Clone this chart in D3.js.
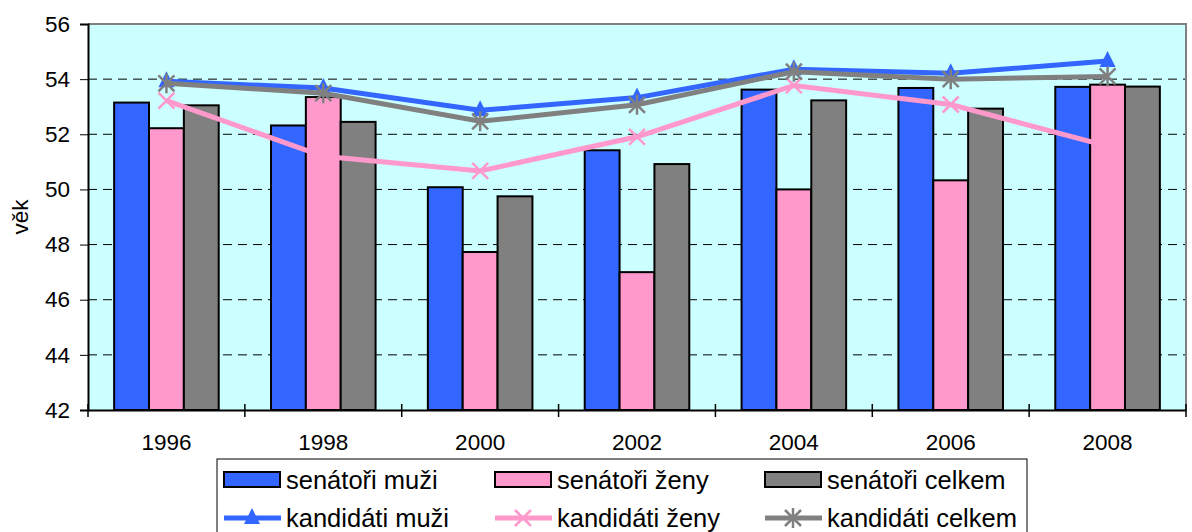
<!DOCTYPE html>
<html>
<head>
<meta charset="utf-8">
<script src="https://cdn.jsdelivr.net/npm/d3@7"></script>
<style>
  body { margin: 0; background: #fff; }
  text { font-family: Arial, "Liberation Sans", sans-serif; fill: #000; }
</style>
</head>
<body>
<div id="chart"></div>
<script>
//////////////////////////////////////////////////////////////////////////////
// Data

var years = ["1996", "1998", "2000", "2002", "2004", "2006", "2008"];

var senatoriMuzi   = [53.15, 52.32, 50.08, 51.42, 53.62, 53.68, 53.72];
var senatoriZeny   = [52.22, 53.35, 47.73, 47.00, 50.00, 50.33, 53.80];
var senatoriCelkem = [53.05, 52.45, 49.75, 50.92, 53.23, 52.93, 53.73];

var kandidatiMuzi   = [53.92, 53.68, 52.87, 53.33, 54.36, 54.21, 54.66];
var kandidatiZeny   = [53.22, 51.20, 50.67, 51.91, 53.77, 53.08, 51.57];
var kandidatiCelkem = [53.85, 53.49, 52.47, 53.07, 54.27, 54.00, 54.10];

var yTicks = [42, 44, 46, 48, 50, 52, 54, 56];

var barSeries = [
    { name: "senátoři muži",   values: senatoriMuzi,   color: "#3366FF" },
    { name: "senátoři ženy",   values: senatoriZeny,   color: "#FF99CC" },
    { name: "senátoři celkem", values: senatoriCelkem, color: "#808080" }
];
var lineSeries = [
    { name: "kandidáti muži",   values: kandidatiMuzi,   color: "#3366FF", marker: "triangle" },
    { name: "kandidáti ženy",   values: kandidatiZeny,   color: "#FF99CC", marker: "x" },
    { name: "kandidáti celkem", values: kandidatiCelkem, color: "#808080", marker: "star" }
];

//////////////////////////////////////////////////////////////////////////////
// Layout

var W = 1192, H = 532;
var plot = { left: 88, right: 1186, top: 24, bottom: 410 };

var svg = d3.select("#chart").append("svg")
    .attr("width", W)
    .attr("height", H);

var x = d3.scaleBand().domain(years).range([plot.left, plot.right]);
var xInner = d3.scaleBand()
    .domain(d3.range(barSeries.length))
    .range([0, x.bandwidth() * 3 / 4.5])
    .padding(0);
var groupOffset = (x.bandwidth() - xInner.range()[1]) / 2;

var y = d3.scaleLinear().domain([42, 56]).range([plot.bottom, plot.top]);

// background
svg.append("rect")
    .attr("x", plot.left).attr("y", plot.top)
    .attr("width", plot.right - plot.left)
    .attr("height", plot.bottom - plot.top)
    .attr("fill", "#CCFFFF");

// gridlines
svg.append("g").selectAll("line")
    .data(yTicks.filter(function(d) { return d > 42 && d < 56; }))
    .enter().append("line")
    .attr("x1", plot.left).attr("x2", plot.right)
    .attr("y1", function(d) { return y(d); })
    .attr("y2", function(d) { return y(d); })
    .attr("stroke", "#000")
    .attr("stroke-width", 1)
    .attr("stroke-dasharray", "9,6");

// top + right frame
svg.append("path")
    .attr("d", "M" + plot.left + "," + plot.top + "H" + plot.right + "V" + plot.bottom)
    .attr("fill", "none")
    .attr("stroke", "#808080")
    .attr("stroke-width", 2);

// bars
barSeries.forEach(function(s, i) {
    svg.append("g").selectAll("rect")
        .data(s.values)
        .enter().append("rect")
        .attr("x", function(d, j) { return x(years[j]) + groupOffset + xInner(i); })
        .attr("y", function(d) { return y(d); })
        .attr("width", xInner.bandwidth())
        .attr("height", function(d) { return y(42) - y(d); })
        .attr("fill", s.color)
        .attr("stroke", "#000")
        .attr("stroke-width", 2);
});

// markers
function markerPath(type) {
    if (type === "triangle") return "M0,-10L8,6L-8,6Z";
    if (type === "x") return "M-8,-8L8,8M-8,8L8,-8";
    return "M-8,-8L8,8M-8,8L8,-8M0,-10V10";
}
function drawMarker(g, type, color) {
    var p = g.append("path").attr("d", markerPath(type));
    if (type === "triangle") p.attr("fill", color).attr("stroke", "none");
    else p.attr("fill", "none").attr("stroke", color).attr("stroke-width", 2.5);
}

var line = d3.line()
    .x(function(d, j) { return x(years[j]) + x.bandwidth() / 2; })
    .y(function(d) { return y(d); });

lineSeries.forEach(function(s) {
    svg.append("path")
        .datum(s.values)
        .attr("d", line)
        .attr("fill", "none")
        .attr("stroke", s.color)
        .attr("stroke-width", 5);
    s.values.forEach(function(v, j) {
        var g = svg.append("g")
            .attr("transform", "translate(" + (x(years[j]) + x.bandwidth() / 2) + "," + y(v) + ")");
        drawMarker(g, s.marker, s.color);
    });
});

// axes
var yAxis = d3.axisLeft(y).tickValues(yTicks).tickSize(8).tickPadding(10);
var gy = svg.append("g")
    .attr("transform", "translate(" + plot.left + ",0)")
    .call(yAxis);
gy.select(".domain").attr("stroke-width", 2);
gy.selectAll("text")
    .style("font-size", "22.5px")
    .style("font-family", "Arial, 'Liberation Sans', sans-serif");

var gx = svg.append("g")
    .attr("transform", "translate(0," + plot.bottom + ")")
    .call(d3.axisBottom(x).tickSize(0).tickPadding(24));
gx.select(".domain").attr("stroke-width", 2);
gx.selectAll("text")
    .style("font-size", "22.5px")
    .style("font-family", "Arial, 'Liberation Sans', sans-serif");

// category separator ticks (cross)
svg.append("g").selectAll("line")
    .data(years.concat(["end"]))
    .enter().append("line")
    .attr("x1", function(d, j) { return plot.left + j * x.step(); })
    .attr("x2", function(d, j) { return plot.left + j * x.step(); })
    .attr("y1", plot.bottom - 6)
    .attr("y2", plot.bottom + 7)
    .attr("stroke", "#000")
    .attr("stroke-width", 1.5);

// y title
svg.append("text")
    .attr("transform", "translate(28," + ((plot.top + plot.bottom) / 2) + ") rotate(-90)")
    .attr("text-anchor", "middle")
    .style("font-size", "22.5px")
    .text("věk");

//////////////////////////////////////////////////////////////////////////////
// Legend

var legend = svg.append("g");
legend.append("rect")
    .attr("x", 217).attr("y", 459)
    .attr("width", 810).attr("height", 90)
    .attr("fill", "#fff")
    .attr("stroke", "#000")
    .attr("stroke-width", 1);

var colX = [224, 495, 765];

barSeries.forEach(function(s, i) {
    legend.append("rect")
        .attr("x", colX[i]).attr("y", 472)
        .attr("width", 56).attr("height", 15)
        .attr("fill", s.color)
        .attr("stroke", "#000")
        .attr("stroke-width", 2);
    legend.append("text")
        .attr("x", colX[i] + 62).attr("y", 489)
        .style("font-size", "25.5px")
        .text(s.name);
});

lineSeries.forEach(function(s, i) {
    legend.append("line")
        .attr("x1", colX[i]).attr("x2", colX[i] + 57)
        .attr("y1", 518).attr("y2", 518)
        .attr("stroke", s.color)
        .attr("stroke-width", 5);
    var g = legend.append("g").attr("transform", "translate(" + (colX[i] + 28) + ",518)");
    drawMarker(g, s.marker, s.color);
    legend.append("text")
        .attr("x", colX[i] + 62).attr("y", 527)
        .style("font-size", "25.5px")
        .text(s.name);
});
</script>
</body>
</html>
